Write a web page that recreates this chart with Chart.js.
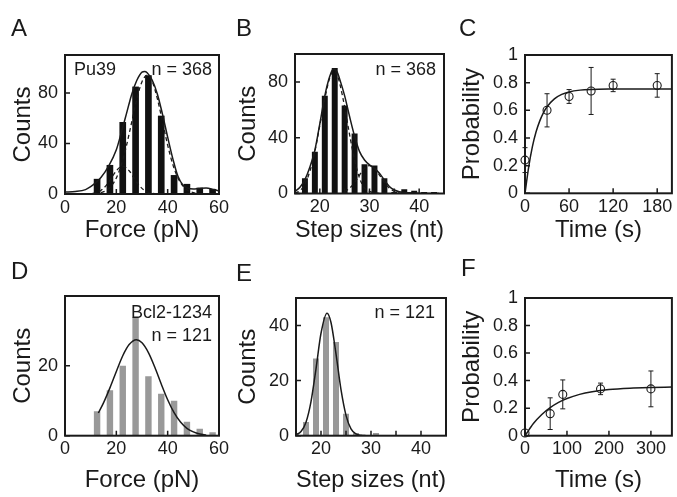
<!DOCTYPE html>
<html>
<head>
<meta charset="utf-8">
<script src="https://cdn.jsdelivr.net/npm/chart.js@4.4.1/dist/chart.umd.min.js"></script>
<style>
  body { margin: 0; background: #fff; }
  #wrap { position: relative; width: 677px; height: 497px; }
  canvas { position: absolute; left: 0; top: 0; }
</style>
</head>
<body>
<div id="wrap">
  <canvas id="chartA" width="677" height="497"></canvas>
  <canvas id="chartB" width="677" height="497"></canvas>
  <canvas id="chartC" width="677" height="497"></canvas>
  <canvas id="chartD" width="677" height="497"></canvas>
  <canvas id="chartE" width="677" height="497"></canvas>
  <canvas id="chartF" width="677" height="497"></canvas>
</div>
<script>
// --- histogram data ---
const forceBins = [12.5, 17.5, 22.5, 27.5, 32.5, 37.5, 42.5, 47.5, 52.5, 57.5];
const pu39Force = [12, 23, 57, 85, 94, 62, 15, 8, 5, 4];
const bcl2Force = [7, 13, 20, 34, 17, 12, 10, 4, 2, 1];

const pu39StepBins = [17, 19, 21, 23, 25, 27, 29, 31, 33, 35, 37, 39, 41, 43];
const pu39Steps = [11, 30, 70, 90, 63, 43, 21, 20, 11, 1, 3, 2, 1, 1];
const bcl2StepBins = [15, 17, 19, 21, 23, 25, 27, 29, 31];
const bcl2Steps = [1, 5, 28, 43, 34, 8, 1, 0, 1];

// --- fitted curves ---
const fitAX = [0, 4, 8, 10, 12, 14, 17, 20, 22, 24, 26, 28, 30, 31, 32, 34, 36, 38, 40, 42, 44, 46, 48, 50, 52, 55, 58, 60];
const fitAY = [1.5, 2, 3.5, 5.8, 9, 13, 22, 35, 49, 64, 79, 90, 96.5, 97, 96, 90, 79, 63, 45, 28, 14, 7, 4.5, 4, 4.3, 4.8, 3.5, 2.5];
const fitA1X = [8, 10, 12, 14, 16, 18, 20, 22.5, 25, 27, 29, 31, 33, 35, 38];
const fitA1Y = [0.05, 0.26, 0.97, 2.8, 6.6, 12.4, 18.4, 22, 18.4, 12.4, 6.6, 2.8, 0.95, 0.26, 0.05];
const fitA2X = [14, 16, 18, 20, 22, 24, 26, 28, 30, 32, 34, 36, 38, 40, 42, 44, 46, 48, 50, 52];
const fitA2Y = [1.0, 2.7, 6.2, 12.7, 23.4, 38.7, 57, 75.3, 88.9, 94, 88.9, 75.3, 57, 38.7, 23.4, 12.7, 6.2, 2.7, 1.0, 0.35];

const fitBX = [15, 16, 17, 18, 19, 20, 21, 22, 22.7, 23.5, 24, 25, 26, 27, 28, 29, 30, 31, 32, 33, 34, 35, 36, 37, 38, 40, 44];
const fitBY = [1.5, 4.5, 10, 19, 31, 50, 70, 84, 89.3, 87, 82, 70, 55, 41, 30, 24, 20.5, 18, 14.5, 9.6, 5, 2.5, 1.3, 0.8, 0.5, 0.2, 0];
const fitB1X = [15, 16, 17, 18, 19, 20, 21, 22, 22.7, 23.5, 24, 25, 26, 27, 28, 29, 30, 31, 33];
const fitB1Y = [0.5, 2, 7, 16, 30, 49, 68, 83, 88, 85, 79, 62, 42, 24, 11, 4, 1.5, 0.5, 0];
const fitB2X = [25, 26, 27, 28, 29, 30, 31, 32, 33, 34, 35, 36, 37];
const fitB2Y = [1.5, 3.8, 7.9, 13.2, 18, 20, 18, 13.2, 7.9, 3.8, 1.5, 0.5, 0.1];

const fitDX = [13, 15, 17.5, 20, 22.5, 25, 27.8, 30, 32.5, 35, 37.5, 40, 42.5, 45, 47.5, 50, 52.5, 55];
const fitDY = [6.5, 9.4, 13.7, 18.4, 22.9, 26.1, 27.5, 26.6, 23.8, 19.6, 14.8, 10.3, 6.6, 3.9, 2.1, 1.1, 0.5, 0.2];

const fitEX = [15, 16, 17, 18, 19, 20, 21.2, 22, 23, 24, 25, 26, 27, 28, 29, 30];
const fitEY = [0.37, 1.5, 4.9, 12.4, 24.3, 37.2, 44.5, 41.1, 29.7, 16.7, 7.4, 2.5, 0.67, 0.13, 0.02, 0];

// --- probability vs time ---
const timeC = [0, 30, 60, 90, 120, 180];
const probC = [0.24, 0.60, 0.70, 0.74, 0.78, 0.78];
const errC = [0.09, 0.12, 0.05, 0.17, 0.045, 0.085];
const fitCX = [0, 5, 10, 15, 20, 25, 30, 40, 50, 60, 75, 90, 120, 150, 200];
const fitCY = [0, 0.19, 0.336, 0.443, 0.522, 0.582, 0.626, 0.683, 0.715, 0.733, 0.746, 0.751, 0.754, 0.755, 0.755];

const timeF = [0, 60, 90, 180, 300];
const probF = [0.02, 0.16, 0.30, 0.34, 0.34];
const errF = [0, 0.115, 0.105, 0.042, 0.13];
const fitFX = [0, 20, 40, 60, 80, 100, 130, 160, 200, 250, 300, 350];
const fitFY = [0, 0.088, 0.154, 0.204, 0.242, 0.270, 0.300, 0.319, 0.335, 0.345, 0.350, 0.353];

// --- tick labels ---
const forceTicks = [0, 20, 40, 60];
const stepTicks = [15, 20, 25, 30, 35, 40, 45];
const stepLabels = [20, 30, 40];
const timeTicksC = [0, 60, 120, 180];
const timeTicksF = [0, 100, 200, 300];
const probTicks = [0, 0.2, 0.4, 0.6, 0.8, 1];

const INK = '#1a1a1a';
const FONT = '"Liberation Sans", Arial, Helvetica, sans-serif';
const TITLE_SIZE = 24;
const HALF_LINE = TITLE_SIZE * 1.2 / 2;
Chart.defaults.font.family = FONT;
Chart.defaults.color = INK;
Chart.defaults.animation = false;

const pts = (xs, ys) => xs.map((x, i) => ({ x: x, y: ys[i] }));

const frame = {
  id: 'frame',
  afterDatasetsDraw(chart, args, o) {
    const { ctx, chartArea: a } = chart;
    const x = chart.scales.x, y = chart.scales.y;
    ctx.save();
    ctx.strokeStyle = INK;
    if (o.errors) {
      const meta = chart.getDatasetMeta(o.errors.dataset);
      const vals = chart.data.datasets[o.errors.dataset].data;
      ctx.lineWidth = 1;
      ctx.beginPath();
      meta.data.forEach((el, i) => {
        const e = o.errors.err[i];
        if (!e) return;
        const top = y.getPixelForValue(vals[i].y + e);
        const bot = y.getPixelForValue(vals[i].y - e);
        ctx.moveTo(el.x, top); ctx.lineTo(el.x, bot);
        ctx.moveTo(el.x - 2.5, top); ctx.lineTo(el.x + 2.5, top);
        ctx.moveTo(el.x - 2.5, bot); ctx.lineTo(el.x + 2.5, bot);
      });
      ctx.stroke();
    }
    // inward tick marks
    ctx.lineWidth = 1.5;
    ctx.beginPath();
    x.ticks.forEach(t => {
      const px = x.getPixelForValue(t.value);
      ctx.moveTo(px, a.bottom); ctx.lineTo(px, a.bottom - 5);
    });
    y.ticks.forEach(t => {
      const py = y.getPixelForValue(t.value);
      ctx.moveTo(a.left, py); ctx.lineTo(a.left + 5, py);
    });
    ctx.stroke();
    ctx.lineWidth = 2;
    ctx.strokeRect(a.left, a.top, a.width, a.height);

    ctx.fillStyle = INK;
    ctx.textBaseline = 'alphabetic';
    ctx.textAlign = 'left';
    ctx.font = '24px ' + FONT;
    ctx.fillText(o.letter[0], o.letter[1], o.letter[2]);
    ctx.font = '18px ' + FONT;
    (o.notes || []).forEach(n => {
      ctx.textAlign = n.align;
      ctx.fillText(n.text, n.x, n.y);
    });
    ctx.restore();
  }
};

function axis(spec, size, horizontal) {
  return {
    type: 'linear',
    min: spec.min,
    max: spec.max,
    offset: false,
    grid: { display: false, drawTicks: false },
    border: { display: false },
    ticks: {
      font: { size: 18 },
      padding: horizontal ? 3 : 7,
      maxRotation: 0,
      autoSkip: false,
      callback: v => (spec.labels || spec.ticks).includes(v) ? String(v) : ''
    },
    afterBuildTicks: s => { s.ticks = spec.ticks.map(v => ({ value: v })); },
    afterFit: s => { if (horizontal) s.height = size; else s.width = size; },
    title: { display: true, text: spec.title, font: { size: TITLE_SIZE }, padding: 0 }
  };
}

function makeChart(id, p) {
  const b = p.box;
  const yw = b.l - (p.yTitleX - HALF_LINE);
  const xh = p.xTitleY + HALF_LINE - b.b;
  new Chart(document.getElementById(id), {
    type: p.type,
    data: { datasets: p.datasets },
    options: {
      responsive: false,
      animation: false,
      layout: { padding: { left: b.l - yw, right: 677 - b.r, top: b.t, bottom: 497 - b.b - xh } },
      plugins: { legend: { display: false }, tooltip: { enabled: false }, frame: p.frame },
      scales: { x: axis(p.x, xh, true), y: axis(p.y, yw, false) }
    },
    plugins: [frame]
  });
}

const bars = (xs, ys, color, pct) => ({
  type: 'bar', data: pts(xs, ys), backgroundColor: color,
  barPercentage: pct, categoryPercentage: 1, order: 2
});
const curve = (xs, ys, dashed) => ({
  type: 'line', data: pts(xs, ys), borderColor: INK, borderWidth: dashed ? 1.3 : 1.5,
  borderDash: dashed ? [4, 3] : [], pointRadius: 0, fill: false,
  cubicInterpolationMode: 'monotone', order: 1
});
const dots = (xs, ys) => ({
  type: 'line', data: pts(xs, ys), showLine: false, pointRadius: 4,
  pointBorderWidth: 1.1, pointBackgroundColor: 'rgba(0,0,0,0)', pointBorderColor: INK,
  clip: false, order: 0
});

makeChart('chartA', {
  type: 'bar',
  box: { l: 65, r: 219, t: 55, b: 194 }, yTitleX: 23, xTitleY: 230,
  datasets: [bars(forceBins, pu39Force, '#111', 0.52), curve(fitAX, fitAY), curve(fitA1X, fitA1Y, true), curve(fitA2X, fitA2Y, true)],
  x: { min: 0, max: 60, ticks: forceTicks, title: 'Force (pN)' },
  y: { min: 0, max: 110, ticks: [0, 40, 80], title: 'Counts' },
  frame: { letter: ['A', 11, 36], notes: [{ text: 'Pu39', x: 74, y: 75, align: 'left' }, { text: 'n = 368', x: 212, y: 75, align: 'right' }] }
});

makeChart('chartB', {
  type: 'bar',
  box: { l: 295, r: 444, t: 54, b: 193.5 }, yTitleX: 248, xTitleY: 230,
  datasets: [bars(pu39StepBins, pu39Steps, '#111', 0.6), curve(fitBX, fitBY), curve(fitB1X, fitB1Y, true), curve(fitB2X, fitB2Y, true)],
  x: { min: 15, max: 45, ticks: stepTicks, labels: stepLabels, title: 'Step sizes (nt)' },
  y: { min: 0, max: 100, ticks: [0, 40, 80], title: 'Counts' },
  frame: { letter: ['B', 236, 36], notes: [{ text: 'n = 368', x: 436, y: 75, align: 'right' }] }
});

makeChart('chartC', {
  type: 'line',
  box: { l: 525, r: 674, t: 55, b: 193.3 }, yTitleX: 472, xTitleY: 230,
  datasets: [curve(fitCX, fitCY), dots(timeC, probC)],
  x: { min: 0, max: 200, ticks: timeTicksC, title: 'Time (s)' },
  y: { min: 0, max: 1, ticks: probTicks, title: 'Probability' },
  frame: { letter: ['C', 459, 36], errors: { dataset: 1, err: errC } }
});

makeChart('chartD', {
  type: 'bar',
  box: { l: 65, r: 219, t: 296, b: 435.7 }, yTitleX: 23, xTitleY: 480,
  datasets: [bars(forceBins, bcl2Force, '#999', 0.5), curve(fitDX, fitDY)],
  x: { min: 0, max: 60, ticks: forceTicks, title: 'Force (pN)' },
  y: { min: 0, max: 40, ticks: [0, 20], title: 'Counts' },
  frame: { letter: ['D', 11, 279], notes: [{ text: 'Bcl2-1234', x: 212, y: 318, align: 'right' }, { text: 'n = 121', x: 212, y: 341, align: 'right' }] }
});

makeChart('chartE', {
  type: 'bar',
  box: { l: 296, r: 446, t: 298, b: 435.7 }, yTitleX: 248, xTitleY: 480,
  datasets: [bars(bcl2StepBins, bcl2Steps, '#999', 0.6), curve(fitEX, fitEY)],
  x: { min: 15, max: 45, ticks: stepTicks, labels: stepLabels, title: 'Step sizes (nt)' },
  y: { min: 0, max: 50, ticks: [0, 20, 40], title: 'Counts' },
  frame: { letter: ['E', 236, 281], notes: [{ text: 'n = 121', x: 435, y: 318, align: 'right' }] }
});

makeChart('chartF', {
  type: 'line',
  box: { l: 525, r: 674, t: 298, b: 435.7 }, yTitleX: 472, xTitleY: 480,
  datasets: [curve(fitFX, fitFY), dots(timeF, probF)],
  x: { min: 0, max: 350, ticks: timeTicksF, title: 'Time (s)' },
  y: { min: 0, max: 1, ticks: probTicks, title: 'Probability' },
  frame: { letter: ['F', 461, 276], errors: { dataset: 1, err: errF } }
});
</script>
</body>
</html>
